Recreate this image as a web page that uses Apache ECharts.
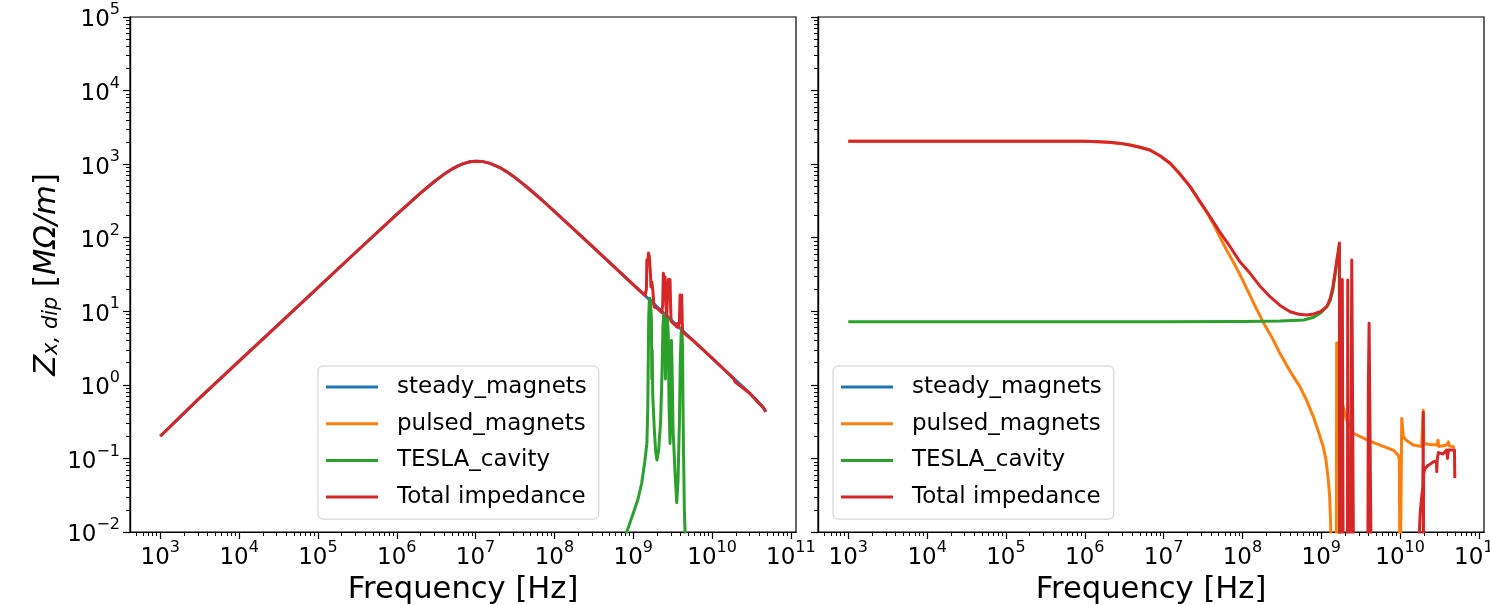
<!DOCTYPE html>
<html><head><meta charset="utf-8">
<script src="https://cdn.jsdelivr.net/npm/echarts@6/dist/echarts.min.js"></script>
<style>html,body{margin:0;padding:0;background:#fff}#c{width:1490px;height:605px}</style>
</head><body><div id="c"></div>
<script>
// ---------- data (frequency [Hz], |Z| [MOhm/m]) ----------
const seriesNames = ['steady_magnets', 'pulsed_magnets', 'TESLA_cavity', 'Total impedance'];
const seriesColors = ['#1f77b4', '#ff7f0e', '#2ca02c', '#d62728'];

const xMajor = [1e3, 1e4, 1e5, 1e6, 1e7, 1e8, 1e9, 1e10, 1e11];
const yMajor = [1e-2, 1e-1, 1, 10, 100, 1e3, 1e4, 1e5];

// left panel
const leftSteady = [[1e3,0.2],[3e3,0.63],[1e4,2.1],[3e4,6.3],[1e5,21],[3e5,63],[1e6,207],[2e6,404],[3e6,581],[4e6,732],[5e6,854],[6e6,947],[7e6,1015],[8.5e6,1076],[1e7,1098],[1.2e7,1090],[1.5e7,1033],[2e7,905],[2.5e7,785],[3e7,686],[4e7,540],[5e7,442],[7e7,323],[1e8,228],[3e8,77],[1e9,23],[3e9,7.7],[1e10,2.3],[3e10,0.77],[4.48e10,0.49],[4.8e10,0.43]];
const leftPulsed = [];
const leftTesla = [[7.5e8,0.005],[8.3e8,0.0101],[9e8,0.013],[1.0e9,0.018],[1.15e9,0.028],[1.28e9,0.046],[1.4e9,0.09],[1.49e9,0.16],[1.53e9,0.5],[1.55e9,2],[1.57e9,8],[1.6e9,14],[1.63e9,15],[1.66e9,12],[1.7e9,8],[1.72e9,1.2],[1.74e9,3],[1.77e9,0.7],[1.85e9,0.25],[1.93e9,0.12],[2.0e9,0.095],[2.1e9,0.13],[2.22e9,0.3],[2.32e9,1.5],[2.38e9,6],[2.43e9,9],[2.5e9,7],[2.56e9,1.2],[2.62e9,5],[2.7e9,8.5],[2.78e9,5],[2.85e9,0.5],[2.93e9,0.16],[3.0e9,0.6],[3.05e9,4],[3.1e9,2],[3.2e9,0.25],[3.4e9,0.06],[3.56e9,0.025],[3.7e9,0.05],[3.85e9,0.3],[3.95e9,2],[4.05e9,5],[4.15e9,6],[4.22e9,3],[4.3e9,0.3],[4.45e9,0.02],[4.54e9,0.01],[4.6e9,0.005]];
const leftTotal = [[1e3,0.2],[3e3,0.63],[1e4,2.1],[3e4,6.3],[1e5,21],[3e5,63],[1e6,207],[2e6,404],[3e6,581],[4e6,732],[5e6,854],[6e6,947],[7e6,1015],[8.5e6,1076],[1e7,1098],[1.2e7,1090],[1.5e7,1033],[2e7,905],[2.5e7,785],[3e7,686],[4e7,540],[5e7,442],[7e7,323],[1e8,228],[3e8,77],[1e9,23],[1.41e9,16.4],[1.47e9,20],[1.49e9,50],[1.53e9,45],[1.56e9,62],[1.6e9,55],[1.63e9,58],[1.66e9,30],[1.68e9,21.5],[1.72e9,25],[1.77e9,19.4],[1.84e9,11.5],[2.0e9,11],[2.3e9,9.6],[2.36e9,12],[2.41e9,33],[2.47e9,20],[2.53e9,29.5],[2.6e9,12],[2.66e9,8.4],[2.72e9,15],[2.79e9,27],[2.86e9,20],[2.93e9,27],[2.98e9,12],[3.02e9,7.3],[3.3e9,6.7],[3.55e9,6.2],[3.63e9,6.8],[3.7e9,6.0],[3.85e9,7],[3.93e9,16.6],[4.0e9,12],[4.12e9,16.6],[4.2e9,6],[4.25e9,5.2],[6e9,3.85],[9.8e9,2.36],[1.0e10,2.22],[1.03e10,2.25],[1.9e10,1.2],[1.95e10,1.1],[2e10,1.14],[3e10,0.77],[4.48e10,0.49],[4.8e10,0.43]];

// right panel
const rightSteady = [];
const rightPulsed = [[1e3,2050],[1e4,2050],[1e5,2050],[1e6,2040],[1.5e6,2020],[2e6,1990],[2.7e6,1930],[3.75e6,1820],[5e6,1700],[6.7e6,1556],[9e6,1300],[1.21e7,1029],[1.6e7,740],[2.17e7,494],[2.9e7,305],[3.5e7,225],[4.27e7,155],[5.2e7,101],[6e7,75],[7e7,56],[8.5e7,38],[1e8,27],[1.4e8,12.7],[1.85e8,7.0],[2.4e8,4.3],[3e8,2.66],[4e8,1.55],[5.38e8,0.94],[6.5e8,0.62],[7.94e8,0.37],[9e8,0.25],[1.06e9,0.144],[1.15e9,0.095],[1.23e9,0.051],[1.28e9,0.03],[1.31e9,0.015],[1.33e9,0.008],[1.35e9,0.001],[1.55e9,0.001],[1.57e9,3.7],[1.62e9,1.5],[1.75e9,0.7],[1.9e9,0.5],[2.1e9,0.33],[2.55e9,0.22],[3.76e9,0.18],[5.55e9,0.152],[8.2e9,0.13],[9.5e9,0.11],[9.8e9,0.095],[1.0e10,0.001],[1.01e10,0.001],[1.05e10,0.35],[1.1e10,0.2],[1.2e10,0.176],[1.47e10,0.152],[1.88e10,0.145],[1.95e10,0.14],[1.97e10,0.45],[2.0e10,0.16],[2.4e10,0.155],[2.92e10,0.152],[2.98e10,0.145],[3.03e10,0.177],[3.1e10,0.145],[3.91e10,0.152],[4.02e10,0.145],[4.1e10,0.168],[4.2e10,0.148],[4.95e10,0.142]];
const rightTesla = [[1e3,7.2],[1e4,7.2],[1e5,7.2],[1e6,7.2],[1e7,7.2],[1e8,7.25],[3e8,7.35],[6e8,7.6],[8e8,8.3],[1e9,9.6],[1.2e9,12],[1.3e9,14],[1.4e9,19],[1.5e9,31],[1.6e9,52],[1.66e9,66],[1.7e9,80],[1.705e9,0.001]];
const rightTotal = [[1e3,2050],[1e4,2050],[1e5,2050],[1e6,2040],[1.5e6,2020],[2e6,1990],[2.7e6,1930],[3.75e6,1820],[5e6,1700],[6.7e6,1556],[9e6,1300],[1.21e7,1029],[1.6e7,740],[2.17e7,494],[2.9e7,310],[3.89e7,193],[5.2e7,118],[6.98e7,75.5],[9.3e7,47],[1.25e8,32.8],[1.7e8,21.5],[2.24e8,15.8],[3e8,12],[4.03e8,9.86],[5.2e8,9.1],[6.56e8,8.9],[8e8,9.2],[9.69e8,9.86],[1.18e9,11.5],[1.3e9,15],[1.4e9,21],[1.5e9,34.5],[1.6e9,55],[1.66e9,70],[1.70e9,85],[1.72e9,0.003],[1.82e9,0.003],[1.85e9,27],[1.88e9,27],[1.9e9,0.003],[2.15e9,0.003],[2.17e9,26.6],[2.19e9,0.003],[2.35e9,0.003],[2.44e9,49.8],[2.55e9,49.8],[2.57e9,0.003],[3.9e9,0.003],[3.96e9,0.94],[4.0e9,0.94],[4.05e9,6.9],[4.25e9,6.9],[4.3e9,0.003],[1.7e10,0.003],[1.75e10,0.009],[1.8e10,0.018],[1.88e10,0.03],[1.94e10,0.04],[1.96e10,0.1],[1.97e10,0.42],[1.975e10,0.003],[1.985e10,0.003],[1.99e10,0.06],[2.05e10,0.072],[2.29e10,0.081],[2.66e10,0.09],[2.9e10,0.092],[2.92e10,0.066],[2.96e10,0.095],[3.06e10,0.12],[3.5e10,0.115],[3.9e10,0.13],[4.0e10,0.1],[4.1e10,0.13],[4.6e10,0.13],[4.9e10,0.13],[4.95e10,0.054]];

// ---------- chart ----------
const F = 'DejaVu Sans';
const XMIN = 413, XMAX = 1.161e11, YMIN = 0.01, YMAX = 1e5;

function minorOf(majors, lo, hi) {
  const out = [];
  majors.concat([majors[0] / 10]).forEach(function (m) {
    for (let k = 2; k <= 9; k++) { const v = m * k; if (v > lo && v < hi) out.push(v); }
  });
  return out;
}
const xMinor = minorOf(xMajor, XMIN, XMAX);
const yMinor = minorOf(yMajor, YMIN, YMAX);

function supLabel(v) {
  const e = Math.round(Math.log10(v));
  return '{b|10}{s|' + (e < 0 ? '\u2212' : '') + Math.abs(e) + '}';
}
const labelRich = {
  b: { fontSize: 23, fontFamily: F, color: '#000', lineHeight: 30, verticalAlign: 'bottom' },
  s: { fontSize: 16, fontFamily: F, color: '#000', lineHeight: 16, verticalAlign: 'top' }
};
const axLine = { show: true, lineStyle: { color: '#000', width: 1.2 } };

function mainX(gi) {
  return {
    type: 'log', logBase: 10, gridIndex: gi, min: XMIN, max: XMAX, position: 'bottom',
    axisLine: axLine,
    axisTick: { show: true, customValues: xMajor, length: 7, lineStyle: { color: '#000', width: 1.2 } },
    axisLabel: { show: true, customValues: xMajor, formatter: supLabel, rich: labelRich, margin: 8 },
    splitLine: { show: false },
    name: 'Frequency [Hz]', nameLocation: 'middle', nameGap: 42,
    nameTextStyle: { fontSize: 30.6, fontFamily: F, color: '#000' }
  };
}
function minorX(gi) {
  return {
    type: 'log', logBase: 10, gridIndex: gi, min: XMIN, max: XMAX, position: 'bottom',
    axisLine: axLine,
    axisTick: { show: true, customValues: xMinor, length: 4, lineStyle: { color: '#000', width: 1 } },
    axisLabel: { show: false }, splitLine: { show: false }
  };
}
function mainY(gi, labels) {
  const ax = {
    type: 'log', logBase: 10, gridIndex: gi, min: YMIN, max: YMAX, position: 'left',
    axisLine: axLine,
    axisTick: { show: true, customValues: yMajor, length: 7, lineStyle: { color: '#000', width: 1.2 } },
    axisLabel: { show: labels, customValues: yMajor, formatter: supLabel, rich: labelRich, margin: 10 },
    splitLine: { show: false }
  };
  if (labels) {
    ax.name = '{i|Z}{sub|x, dip}{n| [}{i|M\u03A9/m}{n|]}';
    ax.nameLocation = 'middle';
    ax.nameRotate = 90;
    ax.nameGap = 68;
    ax.nameTextStyle = {
      rich: {
        i: { fontSize: 30.6, fontFamily: F, fontStyle: 'italic', color: '#000', lineHeight: 30, verticalAlign: 'top' },
        n: { fontSize: 30.6, fontFamily: F, color: '#000', lineHeight: 30, verticalAlign: 'top' },
        sub: { fontSize: 21, fontFamily: F, fontStyle: 'italic', color: '#000', lineHeight: 21, verticalAlign: 'bottom' }
      },
      lineHeight: 37
    };
  }
  return ax;
}
function minorY(gi) {
  return {
    type: 'log', logBase: 10, gridIndex: gi, min: YMIN, max: YMAX, position: 'left',
    axisLine: axLine,
    axisTick: { show: true, customValues: yMinor, length: 4, lineStyle: { color: '#000', width: 1 } },
    axisLabel: { show: false }, splitLine: { show: false }
  };
}
function line(idx, data, gi) {
  const c = seriesColors[idx];
  return {
    type: 'line', name: seriesNames[idx], data: data,
    xAxisIndex: gi * 2, yAxisIndex: gi * 2,
    showSymbol: false, symbol: 'none', clip: true,
    lineStyle: { color: c, width: 3, join: 'round' }, itemStyle: { color: c },
    emphasis: { disabled: true }, animation: false
  };
}
function legend(left) {
  return {
    show: true, orient: 'vertical', left: left, top: 366,
    data: seriesNames, icon: 'rect', itemWidth: 52, itemHeight: 3, itemGap: 12.7,
    padding: [9, 12, 10, 8],
    backgroundColor: 'rgba(255,255,255,0.8)', borderColor: '#cccccc', borderWidth: 1, borderRadius: 5,
    textStyle: { fontSize: 23, fontFamily: F, color: '#000', lineHeight: 24, padding: [0, 0, 0, 14] },
    selectedMode: false
  };
}
const gridBase = { top: 17, width: 666, height: 515, show: true, borderColor: '#000', borderWidth: 1.2, backgroundColor: '#fff', containLabel: false, outerBoundsMode: 'none' };

const chart = echarts.init(document.getElementById('c'), null, { renderer: 'canvas' });
chart.setOption({
  animation: false,
  backgroundColor: '#fff',
  grid: [
    Object.assign({ left: 130 }, gridBase),
    Object.assign({ left: 818 }, gridBase)
  ],
  xAxis: [mainX(0), minorX(0), mainX(1), minorX(1)],
  yAxis: [mainY(0, true), minorY(0), mainY(1, false), minorY(1)],
  legend: [legend(318), legend(833)],
  series: [
    line(0, leftSteady, 0), line(1, leftPulsed, 0), line(2, leftTesla, 0), line(3, leftTotal, 0),
    line(0, rightSteady, 1), line(1, rightPulsed, 1), line(2, rightTesla, 1), line(3, rightTotal, 1)
  ]
});
</script></body></html>
